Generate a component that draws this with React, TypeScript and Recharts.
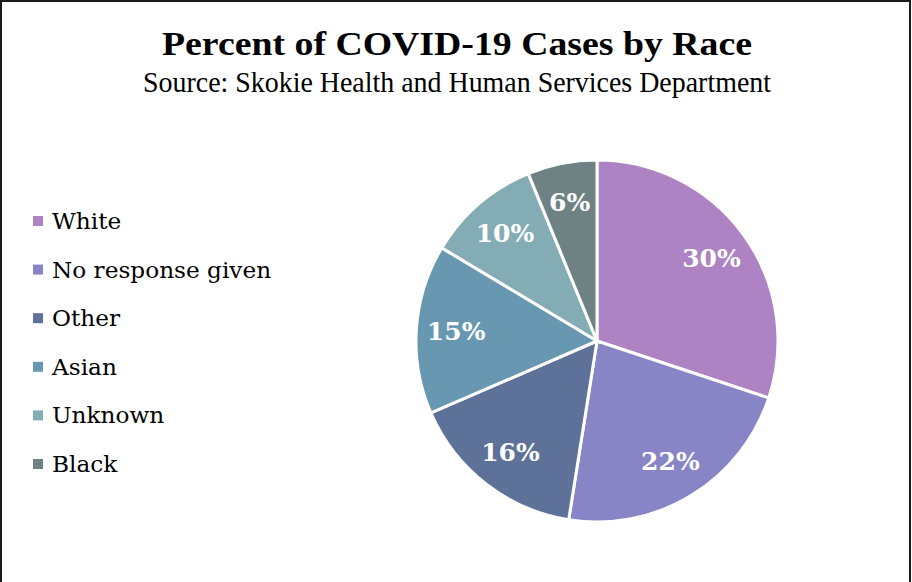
import { PieChart, Pie, Cell, Legend } from 'recharts';

const categories = ['White', 'No response given', 'Other', 'Asian', 'Unknown', 'Black'];
const shares = [30.1, 22.4, 16.0, 15.1, 10.2, 6.2];
const colors = ['#AD83C4', '#8785C6', '#5E7198', '#6897B1', '#84ACB5', '#6E8283'];

const titleText = 'Percent of COVID-19 Cases by Race';
const subtitleText = 'Source: Skokie Health and Human Services Department';

const data = categories.map((name, i) => ({ name, value: shares[i] }));

const RADIAN = Math.PI / 180;

function renderLabel(props: any) {
  const { cx, cy, midAngle, outerRadius, value } = props;
  const r = outerRadius * 0.78;
  const x = cx + r * Math.cos(-midAngle * RADIAN);
  const y = cy + r * Math.sin(-midAngle * RADIAN);
  return (
    <text
      x={x}
      y={y}
      fill="#ffffff"
      textAnchor="middle"
      dominantBaseline="central"
      fontFamily="'DejaVu Serif', serif"
      fontWeight="bold"
      fontSize={25}
    >
      {`${Math.round(value)}%`}
    </text>
  );
}

function LegendBox() {
  return (
    <svg width={300} height={582} style={{ display: 'block' }}>
      {categories.map((name, i) => {
        const base = 229 + i * 48.6;
        return (
          <g key={name}>
            <rect x={33} y={base - 13} width={10} height={10} fill={colors[i]} />
            <text
              x={52}
              y={base}
              fontFamily="'DejaVu Serif', serif"
              fontSize={23.2}
              fill="#000000"
            >
              {name}
            </text>
          </g>
        );
      })}
    </svg>
  );
}

export default function App() {
  return (
    <div
      style={{
        position: 'fixed',
        left: 0,
        top: 0,
        width: 911,
        height: 582,
        boxSizing: 'border-box',
        borderTop: '2px solid #1a1a1a',
        borderLeft: '2px solid #1a1a1a',
        borderRight: '2px solid #1a1a1a',
        background: '#ffffff',
        overflow: 'hidden',
      }}
    >
      <div style={{ position: 'absolute', left: -2, top: -2 }}>
        <PieChart width={912} height={582} margin={{ top: 0, right: 0, bottom: 0, left: 0 }}>
          <Legend
            content={() => <LegendBox />}
            wrapperStyle={{ left: 0, top: 0, width: 300, height: 582 }}
          />
          <Pie
            data={data}
            dataKey="value"
            nameKey="name"
            cx={597}
            cy={341}
            outerRadius={181}
            startAngle={90}
            endAngle={-270}
            stroke="#ffffff"
            strokeWidth={3}
            label={renderLabel}
            labelLine={false}
            isAnimationActive={false}
          >
            {data.map((d, i) => (
              <Cell key={d.name} fill={colors[i]} />
            ))}
          </Pie>
        </PieChart>
        <svg
          width={912}
          height={120}
          style={{ position: 'absolute', left: 0, top: 0, pointerEvents: 'none' }}
        >
          <text
            x={457}
            y={55}
            textAnchor="middle"
            fontFamily="'Liberation Serif', serif"
            fontWeight="bold"
            fontSize={34}
            textLength={590}
            lengthAdjust="spacingAndGlyphs"
            fill="#000000"
          >
            {titleText}
          </text>
          <text
            x={457}
            y={92}
            textAnchor="middle"
            fontFamily="'Liberation Serif', serif"
            fontSize={28.5}
            textLength={628}
            lengthAdjust="spacingAndGlyphs"
            fill="#000000"
          >
            {subtitleText}
          </text>
        </svg>
      </div>
    </div>
  );
}
